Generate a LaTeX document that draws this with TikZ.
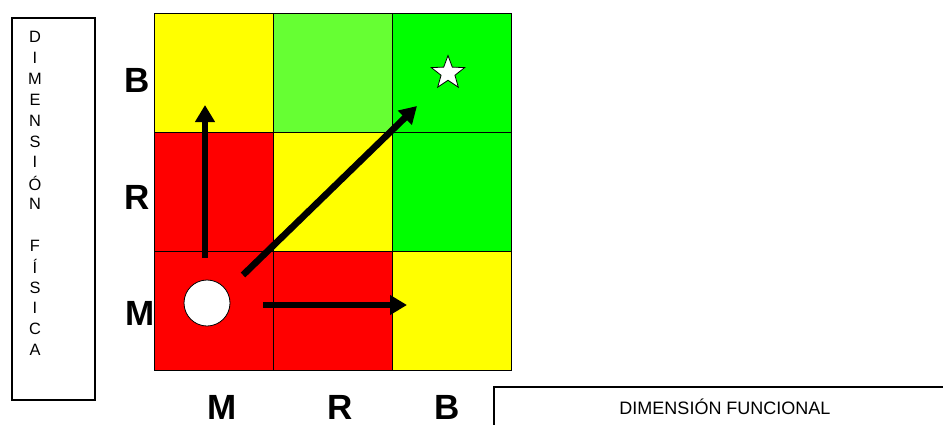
\documentclass[tikz,border=0pt]{standalone}
\usepackage{fontspec}
\setmainfont{Liberation Sans}
\usetikzlibrary{arrows.meta,shapes.geometric}
\definecolor{CellRed}{HTML}{FF0000}
\definecolor{CellYellow}{HTML}{FFFF00}
\definecolor{CellLime}{HTML}{66FF33}
\definecolor{CellGreen}{HTML}{00FF00}

\begin{document}
\begin{tikzpicture}[x=0.5pt,y=-0.5pt,
  axislabel/.style={font=\fontsize{17.5}{20}\selectfont\bfseries},
  boxlabel/.style={font=\fontsize{8.2}{10}\selectfont},
  move/.style={line width=3.3pt,-{Triangle[length=8.5pt,width=9.5pt]}}]
  \clip (0,0) rectangle (943,424);
  % matrix cells
  \foreach \x/\y/\fill in {154/13/CellYellow,273/13/CellLime,392/13/CellGreen,
                           154/132/CellRed,273/132/CellYellow,392/132/CellGreen,
                           154/251/CellRed,273/251/CellRed,392/251/CellYellow}
    \draw[line width=0.5pt,fill=\fill] (\x,\y) rectangle ++(119,119);
  % axis labels
  \foreach \lab/\x/\y in {B/137/80,R/137/197,M/140/313}
    \node[axislabel] (row-\lab) at (\x,\y) {\lab};
  \foreach \lab/\x in {M/222,R/340,B/447}
    \node[axislabel] (col-\lab) at (\x,407) {\lab};
  % vertical caption
  \draw[line width=0.6pt] (12,18) rectangle (95,400);
  \foreach \l [count=\i] in {D,I,M,E,N,S,I,Ó,N,{},F,Í,S,I,C,A}
    \node[boxlabel] (fis-\i) at (35,37+20.87*\i-20.87) {\l};
  % horizontal caption
  \draw[line width=0.6pt] (494,387) rectangle (960,450);
  \node[boxlabel,font=\fontsize{9}{10}\selectfont] (func) at (725,407) {DIMENSIÓN FUNCIONAL};
  % markers
  \node[circle,draw,fill=white,minimum size=23pt,inner sep=0pt] (now) at (207,303) {};
  \node[star,star points=5,star point ratio=2.4,draw,fill=white,
        minimum size=17.5pt,inner sep=0pt] (goal) at (448,73) {};
  % moves
  \coordinate (up-a) at (205,258);
  \coordinate (up-b) at (205,105);
  \coordinate (right-a) at (263,305);
  \coordinate (right-b) at (407,305);
  \coordinate (diag-a) at (243,275);
  \coordinate (diag-b) at (417,106);
  \draw[move] (up-a) -- (up-b);
  \draw[move] (right-a) -- (right-b);
  \draw[move] (diag-a) -- (diag-b);
\end{tikzpicture}
\end{document}
